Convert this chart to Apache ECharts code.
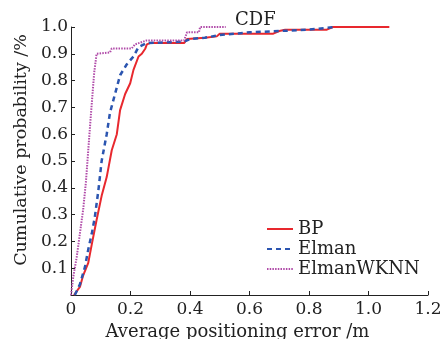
<!DOCTYPE html>
<html>
<head>
<meta charset="utf-8">
<script src="https://cdn.jsdelivr.net/npm/echarts@6/dist/echarts.min.js"></script>
<style>
    html, body { margin: 0; padding: 0; background: #fff; }
    #chart { width: 443px; height: 339px; }
</style>
</head>
<body>
<div id="chart"></div>
<script>
    // CDF curves: [error (m), cumulative probability]
    var bpData = [[0.01, 0], [0.03, 0.03], [0.04, 0.07], [0.058, 0.12], [0.07, 0.19], [0.086, 0.28],
        [0.103, 0.37], [0.12, 0.44], [0.137, 0.54], [0.154, 0.6], [0.165, 0.69], [0.182, 0.75],
        [0.199, 0.79], [0.21, 0.84], [0.227, 0.89], [0.238, 0.9], [0.25, 0.92], [0.255, 0.935],
        [0.265, 0.94], [0.38, 0.94], [0.39, 0.955], [0.45, 0.96], [0.49, 0.965], [0.5, 0.975],
        [0.68, 0.975], [0.7, 0.985], [0.72, 0.99], [0.86, 0.99], [0.88, 1.0], [1.07, 1.0]]
    var elmanData = [[0.013, 0], [0.03, 0.04], [0.047, 0.105], [0.058, 0.17], [0.07, 0.23], [0.08, 0.29],
        [0.092, 0.39], [0.103, 0.5], [0.12, 0.6], [0.131, 0.68], [0.148, 0.75], [0.165, 0.82],
        [0.187, 0.86], [0.21, 0.89], [0.227, 0.925], [0.255, 0.94], [0.38, 0.945], [0.4, 0.955],
        [0.45, 0.96], [0.5, 0.97], [0.55, 0.975], [0.6, 0.98], [0.7, 0.985], [0.8, 0.99], [0.89, 1.0]]
    var wknnData = [[0, 0], [0.008, 0.07], [0.019, 0.14], [0.03, 0.23], [0.041, 0.32], [0.05, 0.42],
        [0.058, 0.54], [0.066, 0.66], [0.073, 0.76], [0.078, 0.83], [0.086, 0.9], [0.131, 0.905],
        [0.137, 0.92], [0.204, 0.92], [0.215, 0.935], [0.255, 0.95], [0.38, 0.95], [0.39, 0.98],
        [0.43, 0.98], [0.434, 1.0], [0.52, 1.0]]
    var seriesNames = ['BP', 'Elman', 'ElmanWKNN']

    var serif = 'DejaVu Serif'
    var chart = echarts.init(document.getElementById('chart'))

    function lineSeries(name, data, color, type, width) {
        return {
            name: name,
            type: 'line',
            data: data,
            showSymbol: false,
            symbol: 'none',
            animation: false,
            lineStyle: { color: color, width: width, type: type },
            itemStyle: { color: color }
        }
    }

    chart.setOption({
        animation: false,
        title: {
            text: 'CDF',
            left: 230,
            top: 6,
            textStyle: { fontFamily: serif, fontSize: 18, fontWeight: 'normal', color: '#222' }
        },
        legend: {
            data: seriesNames,
            orient: 'vertical',
            left: 261,
            top: 215,
            itemWidth: 26,
            itemHeight: 10,
            itemGap: 2,
            itemStyle: { opacity: 0 },
            textStyle: { fontFamily: serif, fontSize: 18, lineHeight: 18, color: '#222' }
        },
        grid: { left: 71, right: 15, top: 27, bottom: 44, containLabel: false, outerBoundsMode: 'none' },
        xAxis: {
            type: 'value',
            min: 0,
            max: 1.2,
            interval: 0.2,
            name: 'Average positioning error /m',
            nameLocation: 'middle',
            nameGap: 26,
            nameTextStyle: { fontFamily: serif, fontSize: 18, color: '#222', padding: [0, 24, 0, 0] },
            axisLine: { lineStyle: { color: '#222', width: 1 } },
            axisTick: { inside: true, length: 4, lineStyle: { color: '#222' } },
            axisLabel: {
                fontFamily: serif, fontSize: 17, color: '#222', margin: 6,
                formatter: function (v) { return v === 0 ? '0' : v.toFixed(1) }
            },
            splitLine: { show: false }
        },
        yAxis: {
            type: 'value',
            min: 0,
            max: 1,
            interval: 0.1,
            name: 'Cumulative probability /%',
            nameLocation: 'middle',
            nameGap: 39,
            nameTextStyle: { fontFamily: serif, fontSize: 17.5, color: '#222', padding: [0, 0, 0, 22] },
            axisLine: { show: true, lineStyle: { color: '#222', width: 1 } },
            axisTick: { show: true, inside: true, length: 4, lineStyle: { color: '#222' } },
            axisLabel: {
                fontFamily: serif, fontSize: 17, color: '#222', margin: 3,
                formatter: function (v) { return v === 0 ? '' : v.toFixed(1) }
            },
            splitLine: { show: false }
        },
        series: [
            lineSeries('BP', bpData, '#e8282e', 'solid', 2),
            lineSeries('Elman', elmanData, '#2b55b0', [5, 4], 2.5),
            lineSeries('ElmanWKNN', wknnData, '#b04aa8', [1.5, 1.2], 2)
        ]
    })
</script>
</body>
</html>
